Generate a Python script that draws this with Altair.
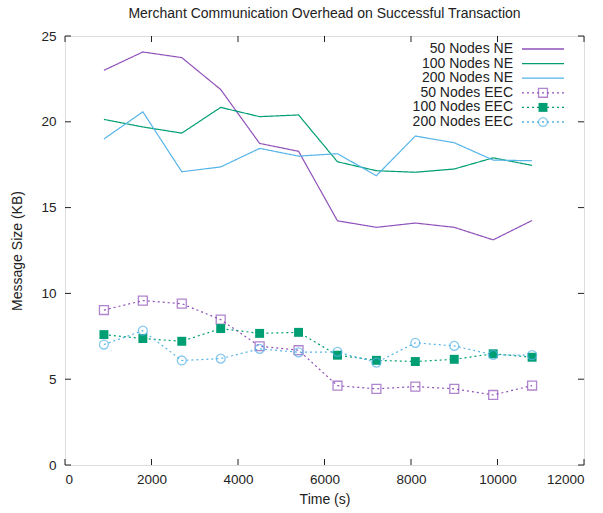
import altair as alt
import pandas as pd

# Sampling times (s)
times = [900, 1800, 2700, 3600, 4500, 5400, 6300, 7200, 8100, 9000, 9900, 10800]

# Message size (KB) per series
ne_50 = [23.0, 24.07, 23.74, 21.88, 18.74, 18.28, 14.23, 13.85, 14.1, 13.85, 13.12, 14.25]
ne_100 = [20.14, 19.7, 19.34, 20.84, 20.3, 20.4, 17.67, 17.15, 17.06, 17.25, 17.9, 17.46]
ne_200 = [19.0, 20.58, 17.09, 17.37, 18.45, 18.0, 18.14, 16.86, 19.17, 18.78, 17.77, 17.73]
eec_50 = [9.03, 9.58, 9.40, 8.47, 6.92, 6.69, 4.62, 4.44, 4.57, 4.44, 4.08, 4.63]
eec_100 = [7.6, 7.37, 7.21, 7.95, 7.67, 7.73, 6.4, 6.1, 6.03, 6.16, 6.48, 6.28]
eec_200 = [7.02, 7.83, 6.09, 6.2, 6.77, 6.57, 6.59, 5.97, 7.12, 6.94, 6.42, 6.4]

series_names = ["50 Nodes NE", "100 Nodes NE", "200 Nodes NE",
                "50 Nodes EEC", "100 Nodes EEC", "200 Nodes EEC"]
series_values = [ne_50, ne_100, ne_200, eec_50, eec_100, eec_200]
PURPLE, GREEN, BLUE = "#8f52ba", "#009e73", "#56b4e9"
series_colors = [PURPLE, GREEN, BLUE, PURPLE, GREEN, BLUE]
series_dash = [[1, 0], [1, 0], [1, 0], [2, 3], [2, 3], [2, 3]]

x_ticks = [0, 2000, 4000, 6000, 8000, 10000, 12000]
y_ticks = [0, 5, 10, 15, 20, 25]

W, H = 519, 429
FONT = "Liberation Sans"
INK = "#222222"

rows = []
for name, vals in zip(series_names, series_values):
    for t, v in zip(times, vals):
        rows.append({"time": t, "size": v, "series": name})
df = pd.DataFrame(rows)

color_scale = alt.Scale(domain=series_names, range=series_colors)
dash_scale = alt.Scale(domain=series_names, range=series_dash)

axis_style = dict(tickSize=0, domain=False, grid=False,
                  labelFont=FONT, titleFont=FONT, labelFontSize=13.5, titleFontSize=14,
                  labelColor=INK, titleColor=INK, titleFontWeight="normal")

x_enc = alt.X("time:Q", scale=alt.Scale(domain=[0, 12000], nice=False),
              axis=alt.Axis(values=x_ticks, title="Time (s)", format="d",
                            labelPadding=7, titlePadding=7, **axis_style))
y_enc = alt.Y("size:Q", scale=alt.Scale(domain=[0, 25], nice=False),
              axis=alt.Axis(values=y_ticks, title="Message Size (KB)",
                            labelPadding=9, titlePadding=16, **axis_style))

lines = alt.Chart(df).mark_line(strokeWidth=1.2).encode(
    x=x_enc, y=y_enc,
    color=alt.Color("series:N", scale=color_scale, legend=None),
    strokeDash=alt.StrokeDash("series:N", scale=dash_scale, legend=None),
    detail="series:N",
)

hollow_sq = alt.Chart(df[df.series == "50 Nodes EEC"]).mark_point(
    shape="square", filled=False, size=80, strokeWidth=1.3, color=PURPLE
).encode(x="time:Q", y="size:Q")

filled_sq = alt.Chart(df[df.series == "100 Nodes EEC"]).mark_point(
    shape="square", filled=True, size=80, opacity=1, color=GREEN
).encode(x="time:Q", y="size:Q")

hollow_circ = alt.Chart(df[df.series == "200 Nodes EEC"]).mark_point(
    shape="circle", filled=False, size=80, strokeWidth=1.3, color=BLUE
).encode(x="time:Q", y="size:Q")

# Inward tick marks on all four sides of the frame
xt = pd.DataFrame({"time": x_ticks})
yt = pd.DataFrame({"size": y_ticks})
tick_style = dict(color=INK, strokeWidth=1)
ticks_bottom = alt.Chart(xt).mark_rule(**tick_style).encode(
    x="time:Q", y=alt.value(H), y2=alt.value(H - 6))
ticks_top = alt.Chart(xt).mark_rule(**tick_style).encode(
    x="time:Q", y=alt.value(0), y2=alt.value(6))
ticks_left = alt.Chart(yt).mark_rule(**tick_style).encode(
    y="size:Q", x=alt.value(0), x2=alt.value(6))
ticks_right = alt.Chart(yt).mark_rule(**tick_style).encode(
    y="size:Q", x=alt.value(W), x2=alt.value(W - 6))

# Key in the top-right corner: label, then line sample with marker
key_df = pd.DataFrame({"series": series_names, "row": list(range(len(series_names)))})
key_y = alt.Y("row:Q", scale=alt.Scale(domain=[0, 5], range=[13, 86]), axis=None)
key_text = alt.Chart(key_df).mark_text(
    align="right", baseline="middle", font=FONT, fontSize=14, color=INK
).encode(x=alt.value(448), y=key_y, text="series:N")
key_line = alt.Chart(key_df).mark_rule(strokeWidth=1.3).encode(
    x=alt.value(457), x2=alt.value(499), y=key_y,
    color=alt.Color("series:N", scale=color_scale, legend=None),
    strokeDash=alt.StrokeDash("series:N", scale=dash_scale, legend=None),
)
key_hsq = alt.Chart(key_df[key_df.series == "50 Nodes EEC"]).mark_point(
    shape="square", filled=False, size=80, strokeWidth=1.3, color=PURPLE
).encode(x=alt.value(478), y=key_y)
key_fsq = alt.Chart(key_df[key_df.series == "100 Nodes EEC"]).mark_point(
    shape="square", filled=True, size=80, opacity=1, color=GREEN
).encode(x=alt.value(478), y=key_y)
key_circ = alt.Chart(key_df[key_df.series == "200 Nodes EEC"]).mark_point(
    shape="circle", filled=False, size=80, strokeWidth=1.3, color=BLUE
).encode(x=alt.value(478), y=key_y)

plot = alt.layer(lines, hollow_sq, filled_sq, hollow_circ,
                 ticks_bottom, ticks_top, ticks_left, ticks_right)
key = alt.layer(key_text, key_line, key_hsq, key_fsq, key_circ)

chart = alt.layer(plot, key).resolve_scale(y="independent").properties(
    width=W, height=H,
    title=alt.TitleParams("Merchant Communication Overhead on Successful Transaction",
                          font=FONT, fontSize=14, fontWeight="normal",
                          color=INK, anchor="middle", frame="group", offset=8),
    autosize=alt.AutoSizeParams(type="none"),
    padding={"left": 65, "top": 36, "right": 19, "bottom": 48},
).configure_view(
    stroke=INK, strokeWidth=1.3
).configure(background="white")

chart.save("out.html", embed_options={"renderer": "svg", "actions": False})
